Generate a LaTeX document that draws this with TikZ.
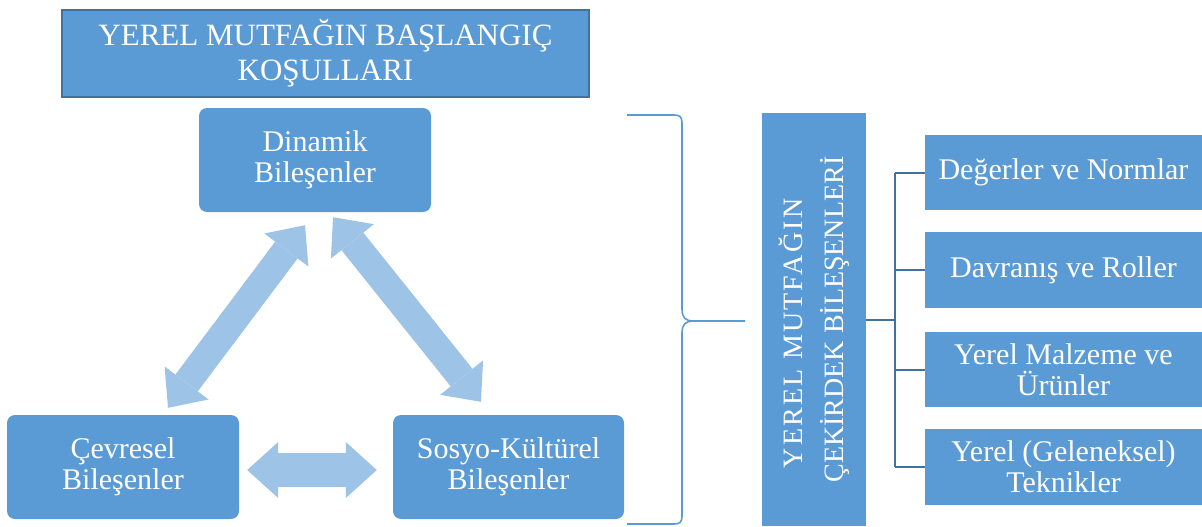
\documentclass[tikz,border=0pt]{standalone}
\usepackage{fontspec}
\setmainfont{Liberation Serif}
\newfontfamily\spacedserif{Liberation Serif}[LetterSpace=8]
\usetikzlibrary{arrows.meta,calc}
\definecolor{boxblue}{HTML}{5B9BD5}
\definecolor{edgeblue}{HTML}{41719C}
\definecolor{lightblue}{HTML}{9DC3E6}
\begin{document}
\begin{tikzpicture}[x=1pt,y=-1pt,
  box/.style={fill=boxblue, text=white, align=center, inner sep=0pt,
    font=\fontsize{30}{31}\selectfont},
  roundbox/.style={box, rounded corners=8pt, minimum width=232pt, minimum height=104pt},
  rightbox/.style={box, minimum width=277pt, minimum height=75.5pt},
  bigarrow/.style={draw=lightblue, line width=28pt,
    {Triangle[length=31pt,width=55pt,line width=0pt]}-{Triangle[length=31pt,width=55pt,line width=0pt]}},
  flatarrow/.style={draw=lightblue, line width=34pt,
    {Triangle[length=31pt,width=56pt,line width=0pt]}-{Triangle[length=31pt,width=56pt,line width=0pt]}},
  bracestyle/.style={draw=boxblue, line width=1.6pt, line join=round},
  treeline/.style={draw=edgeblue, line width=2pt}
]
\useasboundingbox (0,0) rectangle (1202,527);

% title
\node[box, draw=edgeblue, line width=1.2pt, minimum width=527pt, minimum height=87pt,
  font=\fontsize{31}{35}\selectfont] (title) at (325.5,53.5)
  {YEREL MUTFAĞIN BAŞLANGIÇ\\KOŞULLARI};

% triangle of components
\node[roundbox] (din) at (315,160) {Dinamik\\Bileşenler};
\node[roundbox] (cev) at (123,467) {Çevresel\\Bileşenler};
\node[roundbox, minimum width=231pt] (sos) at (508.5,467) {Sosyo-Kültürel\\Bileşenler};

\draw[bigarrow] ($(cev.north)+(45,-7)$) -- ($(din.south)+(-10,13)$);
\draw[bigarrow] ($(din.south)+(18,5)$) -- ($(sos.north)+(-27.5,-13)$);
\draw[flatarrow] ($(cev.east)+(8,3)$) -- ($(sos.west)+(-16,3)$);

% brace
\coordinate (bt) at (627,115);
\coordinate (bb) at (627,524);
\coordinate (bp) at (745,321);
\draw[bracestyle] (bt) -- (674,115) .. controls (680,115) and (682,117) .. (682,123)
  -- (682,309) .. controls (682,318) and (686,321) .. (693,321) -- (bp);
\draw[bracestyle] (693,321) .. controls (686,321) and (682,324) .. (682,333)
  -- (682,516) .. controls (682,522) and (680,524) .. (674,524) -- (bb);

% core box
\node[box, minimum width=104pt, minimum height=413pt] (core) at (814,319.5) {};
\node[rotate=90, text=white, align=center, inner sep=0pt,
  font=\fontsize{28}{41}\selectfont] (coretext) at (core.center)
  {{\spacedserif YEREL MUTFAĞIN}\hspace*{28pt}\\ÇEKİRDEK BİLEŞENLERİ};

% right boxes
\node[rightbox] (r1) at (1063.5,172.5) {Değerler ve Normlar};
\node[rightbox] (r2) at (1063.5,270) {Davranış ve Roller};
\node[rightbox] (r3) at (1063.5,369.5) {Yerel Malzeme ve\\Ürünler};
\node[rightbox] (r4) at (1063.5,467) {Yerel (Geleneksel)\\Teknikler};

% tree connectors
\draw[treeline] (core.east) -- ++(29,0) coordinate (j);
\draw[treeline] (j |- r1.west) -- (j |- r4.west);
\draw[treeline] (j |- r1.west) -- (r1.west);
\draw[treeline] (j |- r2.west) -- (r2.west);
\draw[treeline] (j |- r3.west) -- (r3.west);
\draw[treeline] (j |- r4.west) -- (r4.west);
\end{tikzpicture}
\end{document}
